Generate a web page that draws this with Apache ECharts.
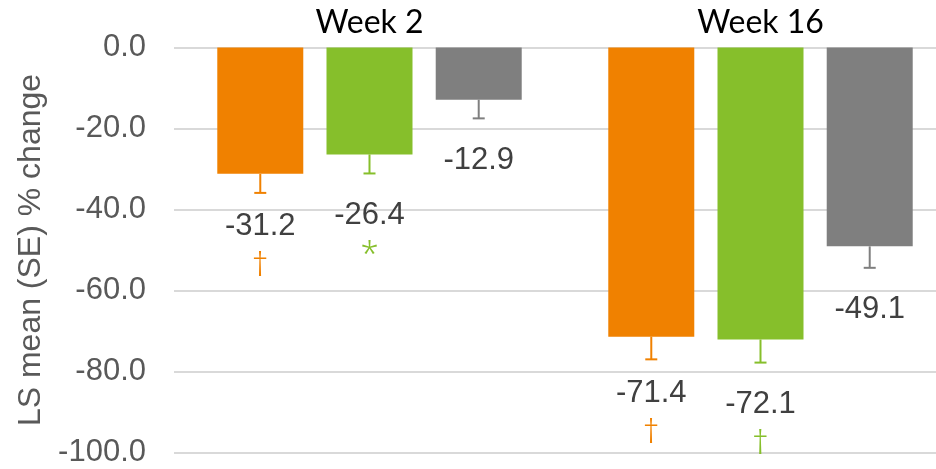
<!DOCTYPE html>
<html>
<head>
<meta charset="utf-8">
<script src="https://cdn.jsdelivr.net/npm/echarts@6/dist/echarts.min.js"></script>
<style>
  html, body { margin: 0; padding: 0; background: #fff; overflow: hidden; }
  /* the plot runs past the right edge, as in the cropped original */
  #main { width: 956px; height: 469px; }
</style>
</head>
<body>
<div id="main"></div>
<script>
// categories and values
const categories = ['Week 2', 'Week 16'];
const groupNames = ['Treatment 1', 'Treatment 2', 'Placebo'];
const orangeValues = [-31.2, -71.4];
const greenValues = [-26.4, -72.1];
const grayValues = [-12.9, -49.1];
const orangeSE = [4.7, 5.6];
const greenSE = [4.7, 5.7];
const graySE = [4.6, 5.3];
const orangeMarks = ['†', '†'];
const greenMarks = ['*', '†'];
const grayMarks = ['', ''];

const colors = ['#F08100', '#86BF2B', '#7F7F7F'];
const labelDrop = [34, 42, 42];
const barW = 86;
const gapRatio = 0.27;
const FONT = 'Liberation Sans, Arial, sans-serif';

const groups = [
  { values: orangeValues, se: orangeSE, marks: orangeMarks },
  { values: greenValues, se: greenSE, marks: greenMarks },
  { values: grayValues, se: graySE, marks: grayMarks }
];

let chart = echarts.init(document.getElementById('main'));

let series = [];
groups.forEach((g, k) => {
  series.push({
    name: groupNames[k],
    type: 'bar',
    data: g.values,
    barWidth: barW,
    barGap: (gapRatio * 100) + '%',
    itemStyle: { color: colors[k] },
    silent: true
  });
});
groups.forEach((g, k) => {
  series.push({
    name: groupNames[k] + ' SE',
    type: 'custom',
    clip: false,
    z: 5,
    data: g.values.map((v, i) => [i, v, g.se[i]]),
    renderItem: function (params, api) {
      const i = api.value(0);
      const v = api.value(1);
      const se = api.value(2);
      const offset = (k - 1) * barW * (1 + gapRatio);
      const p0 = api.coord([i, v]);
      const p1 = api.coord([i, v - se]);
      const x = p0[0] + offset;
      const mark = g.marks[params.dataIndex];
      const text = '{v|' + v.toFixed(1) + '}' + (mark ? '\n{s|' + mark + '}' : '');
      return {
        type: 'group',
        children: [
          { type: 'line', shape: { x1: x, y1: p0[1], x2: x, y2: p1[1] },
            style: { stroke: colors[k], lineWidth: 2 } },
          { type: 'line', shape: { x1: x - 6, y1: p1[1], x2: x + 6, y2: p1[1] },
            style: { stroke: colors[k], lineWidth: 2 } },
          { type: 'text', x: x, y: p1[1] + labelDrop[k] - 19,
            style: {
              text: text, align: 'center', verticalAlign: 'top',
              rich: {
                v: { fontSize: 31, lineHeight: 38, fill: '#404040', fontFamily: FONT },
                s: { fontSize: 33, lineHeight: 42, fill: colors[k], fontFamily: 'Noto Sans, sans-serif', fontWeight: 300 }
              }
            } }
        ]
      };
    }
  });
});

let option = {
  animation: false,
  grid: { left: 174, top: 47.5, width: 782, height: 405, containLabel: false },
  xAxis: {
    type: 'category',
    position: 'top',
    data: categories,
    axisLine: { show: false },
    axisTick: { show: false },
    axisLabel: { fontSize: 32, color: '#000', fontFamily: 'Lato, sans-serif', margin: 9 }
  },
  yAxis: {
    type: 'value',
    min: -100,
    max: 0,
    interval: 20,
    name: 'LS mean (SE) % change',
    nameLocation: 'middle',
    nameGap: 120,
    nameTextStyle: { fontSize: 32, color: '#595959', fontFamily: FONT },
    axisLine: { show: false },
    axisTick: { show: false },
    axisLabel: {
      fontSize: 31, color: '#595959', fontFamily: FONT, margin: 28,
      formatter: v => v.toFixed(1)
    },
    splitLine: { lineStyle: { color: '#D9D9D9', width: 2 } }
  },
  series: series
};
chart.setOption(option);
</script>
</body>
</html>
